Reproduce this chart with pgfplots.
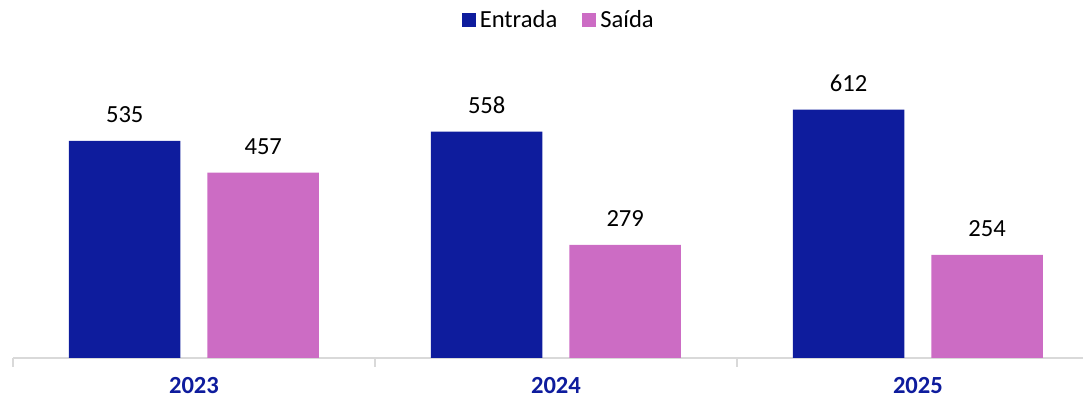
\documentclass[border=0pt]{standalone}
\usepackage{pgfplots}
\pgfplotsset{compat=1.18}
\usepackage{fontspec}
\setmainfont{Carlito}
\definecolor{navy}{HTML}{0E1C9D}
\definecolor{orchid}{HTML}{CC6CC4}
\definecolor{axgray}{HTML}{D9D9D9}
\definecolor{gridgray}{HTML}{EFEFEF}
\begin{document}
\begin{tikzpicture}
\begin{axis}[
  scale only axis,
  width=535pt, height=142pt,
  xmin=-0.5, xmax=2.456,
  ymin=0, ymax=700,
  ytick={0,100,...,700},
  yticklabels={},
  ymajorgrids,
  grid style={gridgray, line width=0.6pt},
  axis y line=none,
  axis x line*=bottom,
  x axis line style={axgray, line width=1.1pt, -},
  xtick={0,1,2},
  xticklabels={2023,2024,2025},
  major tick length=0pt,
  xtick style={draw=none},
  xticklabel style={font=\fontsize{12.3}{14}\selectfont\bfseries, text=navy, inner sep=0pt, anchor=north, yshift=-9.5pt},
  extra x ticks={-0.5,0.5,1.5},
  extra x tick labels={},
  extra x tick style={grid=none, major tick length=4.3pt, tick align=outside, tick pos=bottom, xtick style={draw=axgray, line width=1.1pt}},
  ybar=13.5pt,
  bar width=55.75pt,
  nodes near coords={\pgfmathprintnumber[assume math mode=true]{\pgfplotspointmeta}},
  nodes near coords style={font=\fontsize{12.3}{14}\selectfont, text=black, inner sep=0pt, yshift=9pt},
  legend style={draw=none, at={(0.511,1.19)}, anchor=center, font=\fontsize{12.3}{14}\selectfont, column sep=0pt, inner sep=0pt},
  legend columns=2,
  /tikz/every even column/.append style={column sep=10.5pt},
  legend image code/.code={\fill[#1] (0pt,-3.5pt) rectangle (7pt,3.5pt);},
]
\addplot[fill=navy, draw=none] coordinates {(0,535) (1,558) (2,612)};
\addplot[fill=orchid, draw=none] coordinates {(0,457) (1,279) (2,254)};
\legend{Entrada, Saída}
\end{axis}
\pgfresetboundingbox
\useasboundingbox (-6.5pt,-21pt) rectangle (535pt,179pt);
\end{tikzpicture}
\end{document}
